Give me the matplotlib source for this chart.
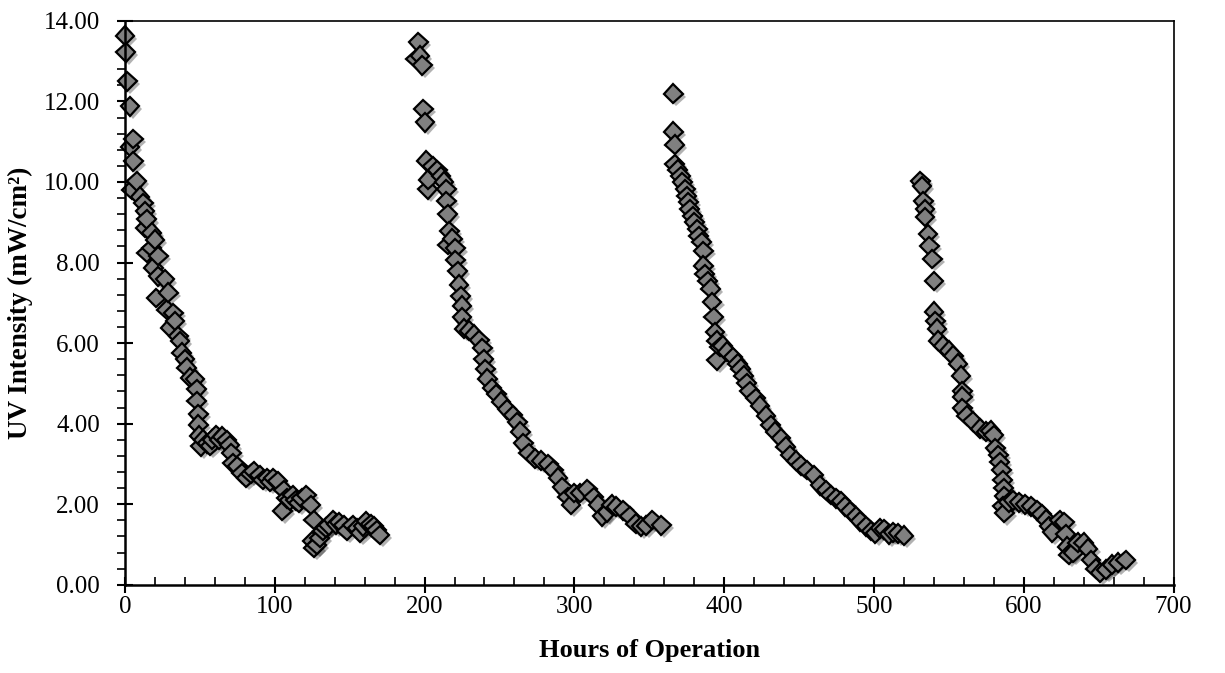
import matplotlib
matplotlib.use("Agg")
import matplotlib.pyplot as plt
import matplotlib.patheffects as pe
from matplotlib.ticker import MultipleLocator, FormatStrFormatter

# -----------------------------------------------------------
# Data (hours, UV intensity), one run per lamp cycle
# -----------------------------------------------------------
hours_1 = [0, 0.5, 1.6, 3.3, 3.3, 4.5, 5.6, 5.6, 7.8, 10, 12.2, 13.4, 13.4, 14.5, 14.5,
           17.8, 17.8, 19, 20, 21, 22.3, 22.3, 26.7, 27.8, 29, 30, 32.3, 33.4, 35.6,
           36.7, 37.9, 40, 41.2, 43.4, 46.8, 47.9, 47.9, 49, 49, 49.5, 50.5, 52, 55,
           57, 58, 61, 63, 65, 68, 70, 71, 72, 75, 78, 81, 84, 86, 90, 92, 95, 97, 99,
           102, 105, 106, 108, 110, 112, 114, 116, 118, 121, 124, 125, 126, 126, 128,
           130, 132, 134, 136, 139, 141, 143, 146, 148, 152, 155, 157, 159, 161, 164,
           166, 168, 170]
uv_1 = [13.63, 13.22, 12.50, 11.88, 10.88, 9.81, 11.07, 10.51, 10.02, 9.64, 9.48, 9.27,
        8.86, 9.07, 8.24, 8.74, 8.36, 7.87, 8.57, 7.12, 8.16, 7.66, 7.58, 6.83, 7.25,
        6.38, 6.75, 6.55, 6.17, 6.05, 5.76, 5.60, 5.39, 5.14, 5.10, 4.85, 4.56, 4.23,
        3.98, 3.70, 3.44, 3.60, 3.51, 3.45, 3.60, 3.71, 3.60, 3.68, 3.59, 3.46, 3.27,
        3.02, 2.94, 2.77, 2.65, 2.75, 2.82, 2.72, 2.60, 2.65, 2.55, 2.65, 2.57, 1.83,
        2.35, 2.15, 2.10, 2.23, 2.10, 2.03, 2.15, 2.23, 1.98, 1.09, 1.61, 0.92, 0.99,
        1.16, 1.34, 1.42, 1.48, 1.60, 1.50, 1.55, 1.48, 1.34, 1.48, 1.40, 1.29, 1.45,
        1.58, 1.50, 1.46, 1.35, 1.24]

hours_2 = [194, 195.8, 197, 198.5, 199.2, 200.2, 201.3, 202, 202.5, 205.5, 208.5, 211,
           213, 214.5, 214.5, 215.5, 215.5, 216.5, 218.5, 220.5, 220.5, 222, 223, 224,
           225, 225, 226.3, 230, 233, 236.5, 238.5, 239.5, 240.5, 242, 245, 248, 251,
           255, 259, 262, 264, 266, 269.6, 274, 278, 282.6, 286, 289, 292, 295.6, 297.8,
           300, 304, 308.7, 313, 316, 318.5, 321.7, 325, 328, 332.6, 337, 341, 344.6,
           347.8, 352, 358]
uv_2 = [13.05, 13.47, 13.14, 12.90, 11.81, 11.48, 10.53, 9.82, 10.06, 10.39, 10.29,
        10.15, 10.01, 9.82, 9.53, 9.20, 8.44, 8.78, 8.59, 8.35, 8.06, 7.78, 7.45, 7.16,
        6.93, 6.64, 6.36, 6.31, 6.21, 6.07, 5.88, 5.60, 5.36, 5.12, 4.89, 4.74, 4.55,
        4.36, 4.22, 4.03, 3.80, 3.51, 3.27, 3.13, 3.08, 2.99, 2.85, 2.66, 2.42, 2.18,
        1.99, 2.28, 2.28, 2.37, 2.18, 1.99, 1.70, 1.80, 1.99, 1.94, 1.85, 1.71, 1.52,
        1.45, 1.47, 1.61, 1.48]

hours_3 = [366, 366, 367, 367, 369, 371, 372, 374, 375, 376, 377, 379, 380, 382, 383,
           385, 386, 386, 387, 389, 391, 392, 393, 394, 395, 395, 397, 399, 402, 406,
           409, 411, 413, 415, 417, 421, 424, 428, 431, 434, 438, 441, 444, 448, 451,
           455, 460, 464, 468, 471, 475, 478, 481, 484, 488, 491, 495, 498, 501, 504,
           507, 510, 513, 516, 520]
uv_3 = [12.19, 11.25, 10.93, 10.44, 10.31, 10.14, 9.99, 9.82, 9.65, 9.50, 9.32, 9.15,
        9.00, 8.83, 8.66, 8.51, 8.29, 7.92, 7.72, 7.54, 7.35, 7.02, 6.65, 6.28, 6.06,
        5.57, 5.90, 5.94, 5.79, 5.66, 5.49, 5.37, 5.19, 5.00, 4.80, 4.63, 4.45, 4.20,
        3.96, 3.80, 3.64, 3.43, 3.22, 3.08, 2.97, 2.85, 2.72, 2.47, 2.35, 2.23, 2.15,
        2.08, 1.95, 1.83, 1.70, 1.58, 1.45, 1.34, 1.28, 1.40, 1.38, 1.25, 1.30, 1.28,
        1.22]

hours_4 = [531, 532, 533, 534, 534, 536, 537, 539, 540, 540, 541, 542, 543, 546, 550,
           553, 556, 558, 559, 559, 559, 562, 566, 571, 575, 578, 580, 581, 583, 584,
           585, 586, 586.5, 587, 586, 587, 590, 593, 597, 601, 605, 609, 612, 615, 617,
           619, 624, 627, 628, 629, 630, 633, 636, 640, 643, 645, 648, 651, 655, 659,
           663, 668]
uv_4 = [10.02, 9.89, 9.52, 9.32, 9.13, 8.71, 8.41, 8.09, 7.54, 6.78, 6.55, 6.36, 6.06,
        5.94, 5.81, 5.69, 5.49, 5.19, 4.80, 4.67, 4.38, 4.20, 4.06, 3.88, 3.80, 3.83,
        3.71, 3.39, 3.22, 3.05, 2.85, 2.60, 2.40, 2.20, 1.95, 1.78, 2.05, 2.10, 2.05,
        2.00, 1.95, 1.85, 1.75, 1.62, 1.45, 1.30, 1.60, 1.55, 1.25, 0.95, 0.75, 0.80,
        1.05, 1.05, 0.90, 0.62, 0.40, 0.30, 0.38, 0.50, 0.55, 0.62]

# -----------------------------------------------------------
# Figure
# -----------------------------------------------------------
plt.rcParams["font.family"] = ["Liberation Serif", "DejaVu Serif"]

fig = plt.figure(figsize=(12.25, 6.73), dpi=100)
ax = fig.add_axes([0.102, 0.131, 0.856, 0.838])

# Excel-like drop shadow under each diamond
sombra = [pe.SimplePatchShadow(offset=(2.2, -2.2), shadow_rgbFace="black", alpha=0.3),
          pe.Normal()]

for h, v in [(hours_1, uv_1), (hours_2, uv_2), (hours_3, uv_3), (hours_4, uv_4)]:
    ax.plot(h, v, linestyle="none", marker="D", markersize=9.5,
            markerfacecolor="#808080", markeredgecolor="black", markeredgewidth=1.6,
            path_effects=sombra, clip_on=False)

ax.set_xlim(0, 700)
ax.set_ylim(0, 14)
ax.xaxis.set_major_locator(MultipleLocator(100))
ax.xaxis.set_minor_locator(MultipleLocator(20))
ax.yaxis.set_major_locator(MultipleLocator(2))
ax.yaxis.set_minor_locator(MultipleLocator(0.4))
ax.yaxis.set_major_formatter(FormatStrFormatter("%.2f"))

ax.tick_params(axis="x", which="major", direction="inout", length=12, width=1.5,
               labelsize=18, pad=2)
ax.tick_params(axis="x", which="minor", direction="in", length=6, width=1.2)
ax.tick_params(axis="y", which="major", direction="inout", length=12, width=1.5,
               labelsize=18, pad=12)
ax.tick_params(axis="y", which="minor", direction="out", length=6, width=1.2)

for lado in ["left", "bottom"]:
    ax.spines[lado].set_linewidth(1.8)
for lado in ["top", "right"]:
    ax.spines[lado].set_linewidth(1.2)

ax.set_xlabel("Hours of Operation", fontsize=19, fontweight="bold", labelpad=15)
ax.set_ylabel("UV Intensity (mW/cm²)", fontsize=19.5, fontweight="bold", labelpad=8)

fig.savefig("out.png", dpi=100)
plt.close(fig)
